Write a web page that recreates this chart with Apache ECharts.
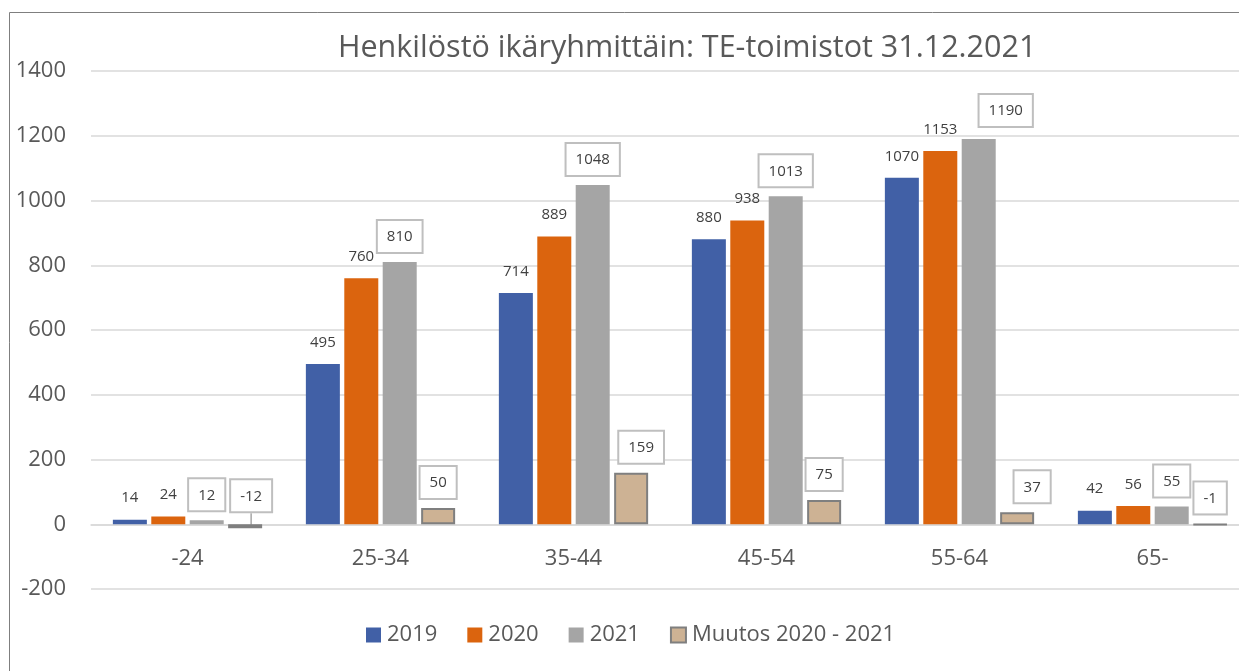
<!DOCTYPE html>
<html>
<head>
<meta charset="utf-8">
<script src="https://cdn.jsdelivr.net/npm/echarts@6/dist/echarts.min.js"></script>
<style>
html,body{margin:0;padding:0;background:#fff;}
#chart{width:1239px;height:671px;}
</style>
</head>
<body>
<div id="chart"></div>
<script>
const titleText = 'Henkilöstö ikäryhmittäin: TE-toimistot 31.12.2021';
const categories = ['-24', '25-34', '35-44', '45-54', '55-64', '65-'];
const seriesNames = ['2019', '2020', '2021', 'Muutos 2020 - 2021'];
const values2019 = [14, 495, 714, 880, 1070, 42];
const values2020 = [24, 760, 889, 938, 1153, 56];
const values2021 = [12, 810, 1048, 1013, 1190, 55];
const valuesChange = [-12, 50, 159, 75, 37, -1];
const yMin = -200, yMax = 1400, yStep = 200;

// manual label nudges (pixels), as in the original layout
const nudge2021 = {4: [27, -3]};
const nudgeChange = {0: [6, -3], 2: [10, 0], 4: [15, 0]};

const FONT = 'Open Sans';
const TXT = '#595959';

const plainLabel = {
  show: true, position: 'top', distance: 14,
  color: '#404040', fontFamily: FONT, fontSize: 15
};
const boxLabel = {
  show: true, position: 'top', distance: 10,
  color: '#404040', fontFamily: FONT, fontSize: 15, lineHeight: 18,
  backgroundColor: '#ffffff', borderColor: '#BFBFBF', borderWidth: 2,
  padding: [7, 9, 6, 9]
};

function nudger(map) {
  return function (p) {
    const n = map[p.dataIndex];
    return n ? {dx: n[0], dy: n[1]} : {};
  };
}

const changeData = valuesChange.map(function (v, i) {
  return i === 0 ? {value: v, labelLine: {show: true}} : {value: v};
});

const chart = echarts.init(document.getElementById('chart'), null, {renderer: 'canvas'});
chart.setOption({
  backgroundColor: '#ffffff',
  animation: false,
  title: {
    text: titleText, left: 333, top: 28,
    textStyle: {fontFamily: FONT, fontSize: 30.5, fontWeight: 'normal', color: TXT}
  },
  legend: {
    left: 366, top: 624, padding: 0, itemWidth: 15, itemHeight: 15, itemGap: 30,
    icon: 'rect',
    textStyle: {fontFamily: FONT, fontSize: 22, color: TXT, padding: [0, 0, 0, 1]},
    data: seriesNames
  },
  graphic: [{
    type: 'rect', silent: true,
    shape: {x: 9.5, y: 12.5, width: 1250, height: 700},
    style: {fill: 'none', stroke: '#7f7f7f', lineWidth: 1}
  }],
  grid: {left: 91, width: 1158, top: 71, bottom: 82, containLabel: false,
         outerBoundsMode: 'none'},
  xAxis: {
    type: 'category', data: categories,
    axisLine: {show: true, onZero: true, lineStyle: {color: '#D9D9D9', width: 1.5}},
    axisTick: {show: false},
    axisLabel: {fontFamily: FONT, fontSize: 22, color: TXT, margin: -41}
  },
  yAxis: {
    type: 'value', min: yMin, max: yMax, interval: yStep,
    axisLine: {show: false}, axisTick: {show: false},
    splitLine: {lineStyle: {color: '#D9D9D9', width: 1.5}},
    axisLabel: {fontFamily: FONT, fontSize: 22, color: TXT, margin: 25,
      formatter: function (v) { return String(v); }}
  },
  series: [
    {name: seriesNames[0], type: 'bar', data: values2019, barWidth: 34, barGap: '13%',
     itemStyle: {color: '#4160A6'}, label: plainLabel},
    {name: seriesNames[1], type: 'bar', data: values2020, barWidth: 34, barGap: '13%',
     itemStyle: {color: '#DB640E'}, label: plainLabel},
    {name: seriesNames[2], type: 'bar', data: values2021, barWidth: 34, barGap: '13%',
     itemStyle: {color: '#A5A5A5'}, label: boxLabel,
     labelLayout: nudger(nudge2021)},
    {name: seriesNames[3], type: 'bar', data: changeData, barWidth: 34, barGap: '13%',
     itemStyle: {color: '#CDB294', borderColor: '#7F7F7F', borderWidth: 2},
     label: boxLabel,
     labelLine: {show: false, lineStyle: {color: '#A6A6A6', width: 1.5}},
     labelLayout: nudger(nudgeChange)}
  ]
});
</script>
</body>
</html>
